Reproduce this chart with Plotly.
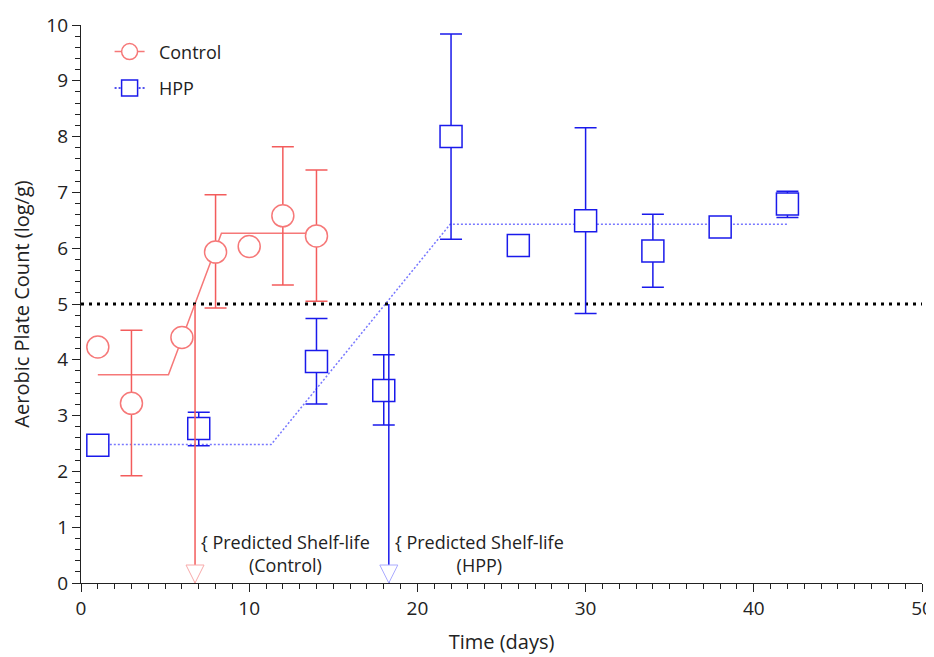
import plotly.graph_objects as go

# ---- data ----
ctrl_day = [1, 3, 6, 8, 10, 12, 14]
ctrl_apc = [4.23, 3.22, 4.40, 5.93, 6.03, 6.58, 6.22]
ctrl_err_plus = [0, 1.31, 0, 1.03, 0, 1.24, 1.18]
ctrl_err_minus = [0, 1.30, 0, 1.00, 0, 1.24, 1.17]

hpp_day = [1, 7, 14, 18, 22, 26, 30, 34, 38, 42]
hpp_apc = [2.47, 2.77, 3.97, 3.45, 8.00, 6.05, 6.49, 5.95, 6.38, 6.79]
hpp_err_plus = [0, 0.29, 0.77, 0.64, 1.84, 0, 1.67, 0.66, 0, 0.23]
hpp_err_minus = [0, 0.31, 0.76, 0.62, 1.84, 0, 1.66, 0.65, 0, 0.24]

ctrl_fit_day = [1, 5.2, 8.35, 14]
ctrl_fit_apc = [3.73, 3.73, 6.27, 6.27]
hpp_fit_day = [1, 11.3, 21.95, 42]
hpp_fit_apc = [2.48, 2.48, 6.43, 6.43]

threshold = 5
shelf_life = {"Control": 6.78, "HPP": 18.3}

RED = "rgb(243,92,92)"
RED_M = "rgb(246,120,120)"
RED_L = "rgb(248,170,170)"
BLUE = "rgb(26,26,235)"
BLUE_L = "rgb(120,120,255)"
BLUE_T = "rgb(170,170,255)"
FONT = "Open Sans"
TXT = "#222"
NB = "\u00a0\u00a0"

fig = go.Figure()

# fitted lines
fig.add_trace(go.Scatter(x=ctrl_fit_day, y=ctrl_fit_apc, mode="lines",
                         line=dict(color=RED_M, width=1.5), showlegend=False, hoverinfo="skip"))
fig.add_trace(go.Scatter(x=hpp_fit_day, y=hpp_fit_apc, mode="lines",
                         line=dict(color=BLUE_L, width=1.5, dash="2px,2px"), showlegend=False, hoverinfo="skip"))

# threshold
fig.add_trace(go.Scatter(x=[0, 50], y=[threshold, threshold], mode="lines",
                         line=dict(color="black", width=3, dash="3px,5px"), showlegend=False, hoverinfo="skip"))

# data
fig.add_trace(go.Scatter(
    x=ctrl_day, y=ctrl_apc, mode="markers", showlegend=False,
    marker=dict(symbol="circle", size=22, color="white", line=dict(color=RED_M, width=1.5)),
    error_y=dict(type="data", symmetric=False, array=ctrl_err_plus, arrayminus=ctrl_err_minus,
                 color=RED, thickness=1.5, width=11)))
fig.add_trace(go.Scatter(
    x=hpp_day, y=hpp_apc, mode="markers", showlegend=False,
    marker=dict(symbol="square", size=22, color="white", line=dict(color=BLUE, width=1.5)),
    error_y=dict(type="data", symmetric=False, array=hpp_err_plus, arrayminus=hpp_err_minus,
                 color=BLUE, thickness=1.5, width=11)))

# predicted shelf-life drop lines + arrows
for name, col, tcol in [("Control", RED, RED_L), ("HPP", BLUE, BLUE_T)]:
    sl = shelf_life[name]
    fig.add_trace(go.Scatter(x=[sl, sl], y=[threshold, 0], mode="lines",
                             line=dict(color=col, width=1.5), showlegend=False, hoverinfo="skip"))
    fig.add_trace(go.Scatter(x=[sl], y=[0], mode="markers", showlegend=False, hoverinfo="skip",
                             cliponaxis=False,
                             marker=dict(symbol="arrow-down", size=18, color="white",
                                         line=dict(color=tcol, width=1))))
    fig.add_annotation(x=sl, y=0.52, xref="x", yref="y", xanchor="left", yanchor="middle",
                       xshift=4, showarrow=False, align="center",
                       text="{ Predicted Shelf-life<br>(" + name + ")",
                       font=dict(family=FONT, size=18, color=TXT))

# legend entries
fig.add_trace(go.Scatter(x=[None], y=[None], mode="lines+markers", name=NB + "Control", legendgroup="c",
                         line=dict(color=RED_M, width=1.5),
                         marker=dict(symbol="circle", size=22, color="white", line=dict(color=RED_M, width=1.5))))
fig.add_trace(go.Scatter(x=[None], y=[None], mode="lines+markers", name=NB + "HPP", legendgroup="h",
                         line=dict(color=BLUE, width=1.5, dash="2px,2px"),
                         marker=dict(symbol="square", size=22, color="white", line=dict(color=BLUE, width=1.5))))

axis_common = dict(showgrid=False, zeroline=False, showline=True, linecolor=TXT, linewidth=1.2,
                   ticks="outside", ticklen=8, tickcolor=TXT, tickwidth=1.2, automargin=False,
                   tickfont=dict(family=FONT, size=19, color=TXT))

fig.update_layout(
    width=926, height=649,
    margin=dict(l=73, r=12, t=17, b=74),
    paper_bgcolor="white", plot_bgcolor="white",
    font=dict(family=FONT, size=18, color=TXT),
    showlegend=True,
    legend=dict(x=0.034, y=0.985, xanchor="left", yanchor="top", bgcolor="rgba(0,0,0,0)",
                traceorder="grouped", tracegroupgap=10,
                font=dict(family=FONT, size=18, color=TXT)),
    xaxis=dict(range=[0, 50], dtick=10, tick0=0,
               title=dict(text="Time (days)", font=dict(family=FONT, size=20, color=TXT), standoff=15),
               minor=dict(dtick=1, ticks="outside", ticklen=5, tickcolor=TXT, tickwidth=1),
               **axis_common),
    yaxis=dict(range=[0, 10], dtick=1, tick0=0,
               title=dict(text="Aerobic Plate Count (log/g)", font=dict(family=FONT, size=20, color=TXT), standoff=14),
               minor=dict(dtick=0.2, ticks="outside", ticklen=5, tickcolor=TXT, tickwidth=1),
               **axis_common),
)

fig.write_html("out.html")
